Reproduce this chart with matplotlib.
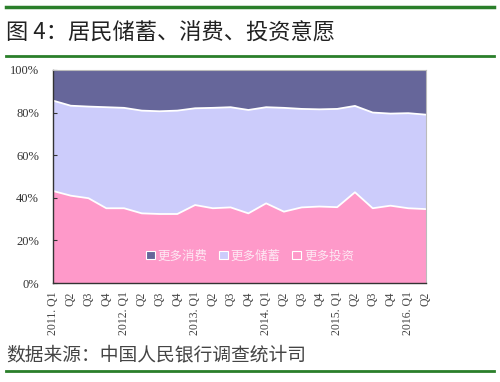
import matplotlib
matplotlib.use("Agg")
import matplotlib.pyplot as plt
from matplotlib.lines import Line2D
from matplotlib.patches import Patch
import numpy as np

plt.rcParams['font.family'] = ['Noto Sans CJK SC', 'DejaVu Sans']

quarters = ["2011. Q1", "Q2", "Q3", "Q4", "2012. Q1", "Q2", "Q3", "Q4",
            "2013. Q1", "Q2", "Q3", "Q4", "2014. Q1", "Q2", "Q3", "Q4",
            "2015. Q1", "Q2", "Q3", "Q4", "2016. Q1", "Q2"]
invest = [43.2, 41.0, 39.8, 35.1, 35.1, 32.7, 32.4, 32.4, 36.6, 35.1, 35.5,
          32.7, 37.4, 33.5, 35.5, 35.9, 35.6, 42.6, 35.1, 36.3, 35.1, 34.7]
savings = [42.4, 42.2, 43.0, 47.4, 47.1, 48.2, 48.2, 48.5, 45.4, 47.1, 47.0,
           48.5, 45.1, 48.7, 46.2, 45.6, 46.1, 40.5, 44.9, 43.2, 44.6, 44.3]
consume = [14.4, 16.8, 17.2, 17.5, 17.8, 19.1, 19.4, 19.1, 18.0, 17.8, 17.5,
           18.8, 17.5, 17.8, 18.3, 18.5, 18.3, 16.9, 20.0, 20.5, 20.3, 21.0]
series_names = ["更多消费", "更多储蓄", "更多投资"]
yticks = [0, 20, 40, 60, 80, 100]

c_cons = "#66669a"
c_sav = "#ccccfb"
c_inv = "#fe99c9"
green = "#2a7f2a"

fig = plt.figure(figsize=(5.0, 3.82), dpi=100)
ax = fig.add_axes([0.106, 0.259, 0.746, 0.558])

x = np.arange(len(quarters))
inv = np.array(invest)
sav = np.array(savings)
con = np.array(consume)
ax.stackplot(x, inv, sav, con, colors=[c_inv, c_sav, c_cons], linewidth=0)
ax.plot(x, inv, color="white", lw=1.3)
ax.plot(x, inv + sav, color="white", lw=1.3)

ax.set_xlim(0, len(quarters) - 1)
ax.set_ylim(0, 100)
ax.set_yticks(yticks)
ax.set_yticklabels([f"{v}%" for v in yticks], family="Liberation Serif",
                   fontsize=9, color="#333333")
ax.set_xticks(x)
ax.set_xticklabels(quarters, rotation=90, family="Liberation Serif",
                   fontsize=8.5, color="#444444")
ax.tick_params(axis="x", length=0, pad=6)
ax.set_xticks(x[2::2], minor=True)
ax.tick_params(axis="x", which="minor", direction="in", length=3, color="#333333")
ax.tick_params(axis="y", direction="in", length=3, color="#333333", pad=10)

for s in ["left", "bottom"]:
    ax.spines[s].set_color("#333333")
    ax.spines[s].set_linewidth(1.0)
for s in ["top", "right"]:
    ax.spines[s].set_color("#bbbbbb")
    ax.spines[s].set_linewidth(0.8)

handles = [Patch(facecolor=c, edgecolor="white", linewidth=0.8)
           for c in [c_cons, c_sav, c_inv]]
leg = ax.legend(handles, series_names, loc="center", bbox_to_anchor=(0.528, 0.127),
                ncol=3, frameon=False, fontsize=9, handlelength=0.7,
                handleheight=0.7, handletextpad=0.25, columnspacing=0.9)
for t in leg.get_texts():
    t.set_color("#fde8f3")

# title and footer with green rules
fig.add_artist(Line2D([0.012, 0.988], [1 - 7/382, 1 - 7/382], color=green, lw=2.5))
fig.add_artist(Line2D([0.012, 0.988], [1 - 56/382, 1 - 56/382], color=green, lw=2.0))
fig.text(0.012, 1 - 33/382, "图 4：居民储蓄、消费、投资意愿", fontsize=16,
         fontweight="medium", color="#222222", va="center", ha="left")
fig.text(0.012, 1 - 355/382, "数据来源：中国人民银行调查统计司", fontsize=13.5,
         color="#444444", va="center", ha="left")
fig.add_artist(Line2D([0.012, 0.988], [1 - 371/382, 1 - 371/382], color=green, lw=2.0))

fig.savefig("out.png", dpi=100)
